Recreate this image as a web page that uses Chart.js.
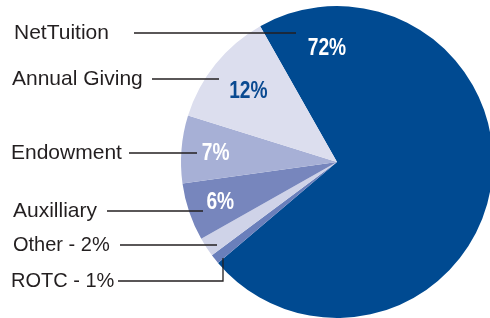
<!DOCTYPE html>
<html>
<head>
<meta charset="utf-8">
<script src="https://cdn.jsdelivr.net/npm/chart.js@4/dist/chart.umd.min.js"></script>
<style>
  html, body { margin: 0; padding: 0; background: #fff; }
  #wrap { width: 490px; height: 318px; overflow: hidden; position: relative; }
</style>
</head>
<body>
<div id="wrap"><canvas id="revenueChart" width="500" height="330"></canvas></div>
<script>
// revenue sources, in clockwise order starting from the Net Tuition slice
const categories = ['Net Tuition', 'ROTC', 'Other', 'Auxilliary', 'Endowment', 'Annual Giving'];
const shares = [72, 1, 2, 6, 7, 12];
const sliceLabels = ['72%', '', '', '6%', '7%', '12%'];
const sideLabels = ['NetTuition', 'ROTC - 1%', 'Other - 2%', 'Auxilliary', 'Endowment', 'Annual Giving'];

const sliceColors = ['#004a91', '#6a7fbb', '#cfd3e8', '#7786bd', '#a7b0d6', '#dcdeee'];
const labelColors = ['#ffffff', '#ffffff', '#ffffff', '#ffffff', '#ffffff', '#0a4a91'];
// how far out (fraction of radius) each in-slice label sits
const labelDepth = [0.74, 0, 0, 0.79, 0.78, 0.73];

// callout placement: text x, line y, line start/end x (+ optional elbow), font size
const callouts = [
  { tx: 14, y: 33, x1: 134, x2: 296, size: 21 },
  { tx: 11, y: 281, x1: 118, x2: 223, up: 258, size: 20 },
  { tx: 13, y: 245, x1: 120, x2: 217, size: 20 },
  { tx: 13, y: 211, x1: 107, x2: 203, size: 21 },
  { tx: 11, y: 153, x1: 129, x2: 197, size: 21 },
  { tx: 12, y: 79, x1: 152, x2: 219, size: 21 }
];

const labelPlugin = {
  id: 'sliceLabels',
  afterDatasetsDraw(chart) {
    const ctx = chart.ctx;
    const arcs = chart.getDatasetMeta(0).data;
    ctx.save();
    ctx.font = 'bold 24px "Liberation Sans", Arial, sans-serif';
    ctx.textAlign = 'center';
    ctx.textBaseline = 'middle';
    arcs.forEach((arc, i) => {
      if (!sliceLabels[i]) return;
      let ang = (arc.startAngle + arc.endAngle) / 2;
      // the big slice carries its label up near the top
      if (i === 0) ang = -Math.PI / 2 - 5 * Math.PI / 180;
      const r = arc.outerRadius * labelDepth[i];
      const x = arc.x + Math.cos(ang) * r;
      const y = arc.y + Math.sin(ang) * r + 1;
      ctx.save();
      ctx.translate(x, y);
      ctx.scale(0.8, 1);
      ctx.fillStyle = labelColors[i];
      ctx.fillText(sliceLabels[i], 0, 0);
      ctx.restore();
    });

    ctx.textAlign = 'left';
    ctx.fillStyle = '#231f20';
    ctx.strokeStyle = '#231f20';
    ctx.lineWidth = 1.3;
    callouts.forEach((c, i) => {
      ctx.font = c.size + 'px "Liberation Sans", Arial, sans-serif';
      ctx.fillText(sideLabels[i], c.tx, c.y);
      ctx.beginPath();
      ctx.moveTo(c.x1, c.y);
      ctx.lineTo(c.x2, c.y);
      if (c.up) ctx.lineTo(c.x2, c.up);
      ctx.stroke();
    });
    ctx.restore();
  }
};

const ctx = document.getElementById('revenueChart').getContext('2d');
const revenueChart = new Chart(ctx, {
  type: 'pie',
  data: {
    labels: categories,
    datasets: [{
      data: shares,
      backgroundColor: sliceColors,
      borderWidth: 0
    }]
  },
  options: {
    responsive: false,
    animation: false,
    devicePixelRatio: 1,
    rotation: -29.5,
    layout: { padding: { left: 181, right: 7, top: 6, bottom: 12 } },
    plugins: {
      legend: { display: false },
      tooltip: { enabled: false }
    }
  },
  plugins: [labelPlugin]
});
</script>
</body>
</html>
